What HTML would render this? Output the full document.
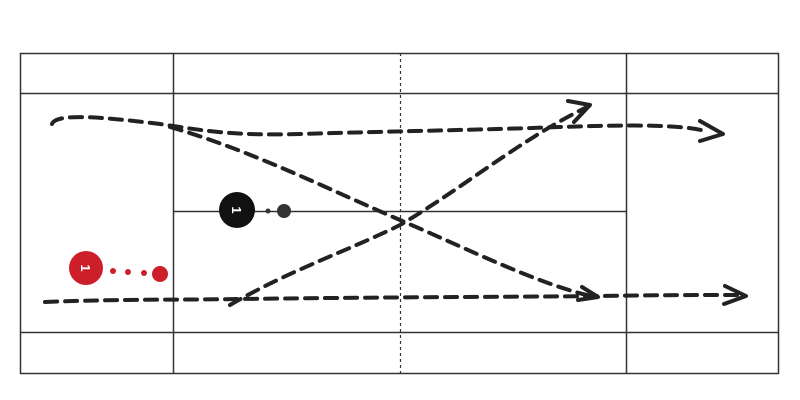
<!DOCTYPE html>
<html><head><style>html,body{margin:0;padding:0;background:#fff;}svg{display:block}</style></head>
<body>
<svg width="800" height="400" viewBox="0 0 800 400">
<g fill="none" stroke="#333" stroke-width="1.5">
<rect x="20.5" y="53.5" width="758" height="320"/>
<line x1="20" y1="93.5" x2="779" y2="93.5"/>
<line x1="20" y1="332.5" x2="779" y2="332.5"/>
<line x1="173.5" y1="53" x2="173.5" y2="373"/>
<line x1="626.5" y1="53" x2="626.5" y2="373"/>
<line x1="173" y1="211.5" x2="626" y2="211.5"/>
<line x1="400.5" y1="53" x2="400.5" y2="373" stroke-dasharray="3,3" stroke-width="1.2"/>
</g>
<g fill="none" stroke="#222" stroke-width="4" stroke-dasharray="12,8" stroke-linecap="round">
<path d="M52,124 C56,112 110,118 160,124 C200,130 230,136 300,134 C400,131 480,130 560,127 C620,125 680,124 705,131"/>
<path d="M170,127 C250,150 330,190 400,220 C470,250 540,285 595,297"/>
<path d="M45,302 C120,299 180,300 240,299 C400,297 500,297 600,296 C660,295 700,295 740,295"/>
<path d="M230,305 C290,270 350,250 400,225 C460,190 520,140 585,108"/>
</g>
<g fill="none" stroke="#222" stroke-width="4" stroke-linecap="round" stroke-linejoin="round">
<polyline points="568,101 590,105 574,122"/>
<polyline points="700,121 723,134 700,141"/>
<polyline points="582,287 598,297 578,300"/>
<polyline points="725,286 746,296 724,304"/>
</g>
<circle cx="237" cy="210" r="18" fill="#111"/>
<text x="237" y="215" fill="#fff" font-family="Liberation Sans,sans-serif" font-size="13" font-weight="bold" text-anchor="middle" transform="rotate(90 237 210)">1</text>
<circle cx="268" cy="211" r="2.5" fill="#333"/>
<circle cx="284" cy="211" r="7" fill="#333"/>
<circle cx="86" cy="268" r="17" fill="#cc1f2a"/>
<text x="86" y="273" fill="#fff" font-family="Liberation Sans,sans-serif" font-size="13" font-weight="bold" text-anchor="middle" transform="rotate(90 86 268)">1</text>
<circle cx="113" cy="271" r="3" fill="#cc1f2a"/>
<circle cx="128" cy="272" r="3" fill="#cc1f2a"/>
<circle cx="144" cy="273" r="3" fill="#cc1f2a"/>
<circle cx="160" cy="274" r="8" fill="#cc1f2a"/>
</svg>
</body></html>
